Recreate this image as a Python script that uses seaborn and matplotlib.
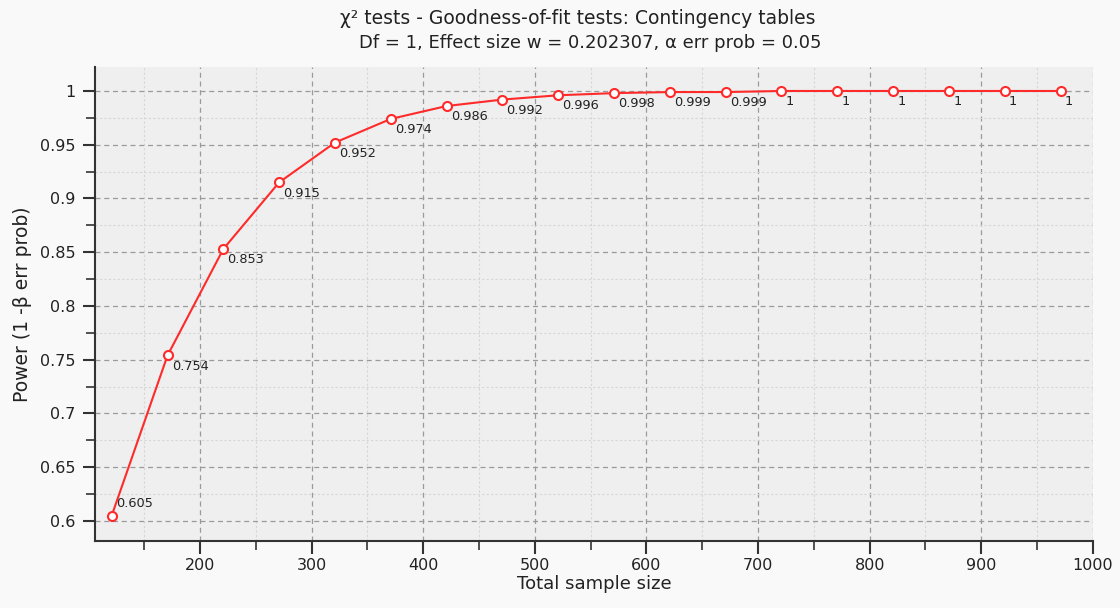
import numpy as np
import pandas as pd
import matplotlib
matplotlib.use("Agg")
import matplotlib.pyplot as plt
import seaborn as sns
from matplotlib.ticker import MultipleLocator, FuncFormatter

# ---- data ----
sample_size = [121, 171, 221, 271, 321, 371, 421, 471, 521, 571,
               621, 671, 721, 771, 821, 871, 921, 971]
power = [0.605, 0.754, 0.853, 0.915, 0.952, 0.974, 0.986, 0.992, 0.996, 0.998,
         0.999, 0.999, 1.0, 1.0, 1.0, 1.0, 1.0, 1.0]
point_labels = ["0.605", "0.754", "0.853", "0.915", "0.952", "0.974", "0.986",
                "0.992", "0.996", "0.998", "0.999", "0.999",
                "1", "1", "1", "1", "1", "1"]
title_line1 = "χ² tests - Goodness-of-fit tests: Contingency tables"
title_line2 = "Df = 1, Effect size w = 0.202307, α err prob = 0.05"
x_label = "Total sample size"
y_label = "Power (1 -β err prob)"

df = pd.DataFrame({"n": sample_size, "power": power})

sns.set_theme(style="white")
plt.rcParams["font.family"] = ["DejaVu Sans"]

RED = "#ff2a2a"
TXT = "#222222"

fig = plt.figure(figsize=(11.2, 6.08), dpi=100, facecolor="#f9f9f9")
ax = fig.add_axes([0.0848, 0.1102, 0.891, 0.7796])
ax.set_facecolor("#efefef")

sns.lineplot(data=df, x="n", y="power", ax=ax, color=RED, linewidth=1.5,
             marker="o", markersize=6.5, markerfacecolor="white",
             markeredgecolor=RED, markeredgewidth=1.5, zorder=3)

for i, (xv, yv, lab) in enumerate(zip(sample_size, power, point_labels)):
    if i == 0:
        ax.annotate(lab, (xv, yv), xytext=(3, 4), textcoords="offset points",
                    ha="left", va="bottom", fontsize=9.3, color=TXT, zorder=4)
    else:
        ax.annotate(lab, (xv, yv), xytext=(3, -3), textcoords="offset points",
                    ha="left", va="top", fontsize=9.3, color=TXT, zorder=4)

ax.set_xlim(106, 1000)
ax.set_ylim(0.5814, 1.0223)

ax.xaxis.set_major_locator(MultipleLocator(100))
ax.xaxis.set_minor_locator(MultipleLocator(50))
ax.yaxis.set_major_locator(MultipleLocator(0.05))
ax.yaxis.set_minor_locator(MultipleLocator(0.025))
ax.yaxis.set_major_formatter(FuncFormatter(lambda v, p: f"{v:.2f}".rstrip("0").rstrip(".")))

ax.grid(which="major", color="#9a9a9a", linestyle=(0, (4, 3)), linewidth=0.9)
ax.grid(which="minor", color="#d6d6d6", linestyle=(0, (2, 2)), linewidth=0.8)
ax.set_axisbelow(True)

for s in ["top", "right"]:
    ax.spines[s].set_visible(False)
for s in ["left", "bottom"]:
    ax.spines[s].set_color("#333333")
    ax.spines[s].set_linewidth(1.5)

ax.tick_params(axis="both", which="major", direction="out", length=9, width=1.5,
               color="#333333", labelsize=11.5, labelcolor=TXT)
ax.tick_params(axis="both", which="minor", direction="out", length=6.5, width=1.2,
               color="#333333")
ax.tick_params(axis="y", which="major", pad=5)
ax.tick_params(axis="x", which="major", pad=3)
ax.tick_params(left=True, bottom=True, which="both")

ax.set_xlabel(x_label, fontsize=13, color=TXT, labelpad=2)
ax.set_ylabel(y_label, fontsize=13.5, color=TXT, labelpad=6)

fig.text(578 / 1120, 1 - 18 / 608, title_line1, ha="center", va="center",
         fontsize=13.5, color=TXT)
fig.text(590 / 1120, 1 - 43 / 608, title_line2, ha="center", va="center",
         fontsize=13, color=TXT)

fig.savefig("out.png", dpi=100, facecolor=fig.get_facecolor())
